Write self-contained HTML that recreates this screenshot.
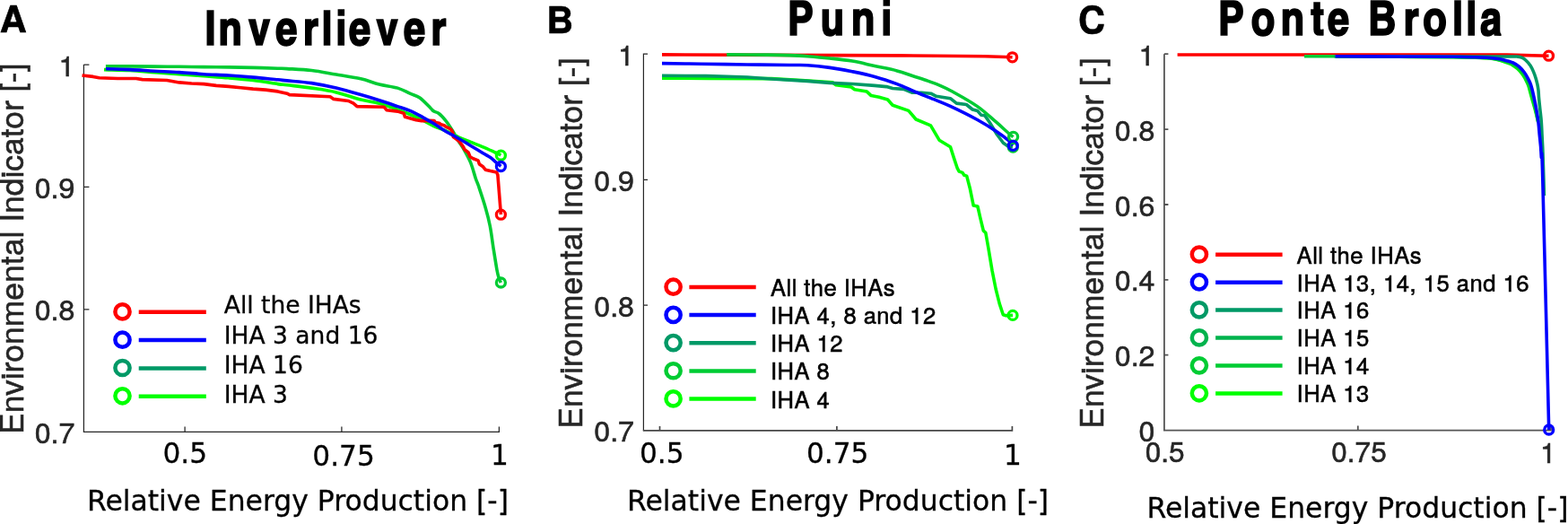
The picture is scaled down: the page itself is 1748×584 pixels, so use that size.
<!DOCTYPE html>
<html><head><meta charset="utf-8"><title>Environmental indicator vs relative energy production</title>
<style>html,body{margin:0;padding:0;background:#fff;}svg{display:block;}</style></head>
<body><svg width="1748" height="584" viewBox="0 0 1748 584">
<rect width="1748" height="584" fill="#fff"/>
<path d="M93.4,72.1 H99.4 M93.4,72.1 V481.4 H556.4 V475.4 M93.4,208.3 H99.4 M93.4,344.8 H99.4 M206.1,481.4 V475.4 M380.9,481.4 V475.4" fill="none" stroke="#262626" stroke-width="1.25"/>
<text x="83.4" y="84.69999999999999" font-size="32.2" font-family="'TeX Gyre Heros', 'Liberation Sans', Arial, Helvetica, sans-serif" text-anchor="end" fill="#262626" font-weight="normal" stroke="#262626" stroke-width="0.55">1</text>
<text x="83.4" y="220.9" font-size="32.2" font-family="'TeX Gyre Heros', 'Liberation Sans', Arial, Helvetica, sans-serif" text-anchor="end" fill="#262626" font-weight="normal" stroke="#262626" stroke-width="0.55">0.9</text>
<text x="83.4" y="357.40000000000003" font-size="32.2" font-family="'TeX Gyre Heros', 'Liberation Sans', Arial, Helvetica, sans-serif" text-anchor="end" fill="#262626" font-weight="normal" stroke="#262626" stroke-width="0.55">0.8</text>
<text x="83.4" y="494.0" font-size="32.2" font-family="'TeX Gyre Heros', 'Liberation Sans', Arial, Helvetica, sans-serif" text-anchor="end" fill="#262626" font-weight="normal" stroke="#262626" stroke-width="0.55">0.7</text>
<text x="206.3" y="516.3" font-size="31.2" font-family="'DejaVu Sans', Verdana, sans-serif" text-anchor="middle" fill="#000" font-weight="normal" stroke="#000" stroke-width="0.3">0.5</text>
<text x="383.1" y="519.0" font-size="31.2" font-family="'DejaVu Sans', Verdana, sans-serif" text-anchor="middle" fill="#000" font-weight="normal" stroke="#000" stroke-width="0.3">0.75</text>
<text x="557.0" y="518.2" font-size="31.2" font-family="'DejaVu Sans', Verdana, sans-serif" text-anchor="middle" fill="#000" font-weight="normal" stroke="#000" stroke-width="0.3">1</text>
<text x="97.0" y="569.0" font-size="31.45" font-family="'DejaVu Sans', Verdana, sans-serif" text-anchor="start" fill="#000" font-weight="normal" stroke="#000" stroke-width="0.3">Relative Energy Production [-]</text>
<text x="0" y="0" font-size="35.5" font-family="'TeX Gyre Heros', 'Liberation Sans', Arial, Helvetica, sans-serif" text-anchor="start" fill="#262626" font-weight="normal" stroke="#262626" stroke-width="0.55" transform="translate(26.3,483.9) rotate(-90)">Environmental Indicator [-]</text>
<text x="228.4 243.6 277.1 307.2 337.9 358.4 374.3 389.0 419.5 450.0 480.6" y="50.3" font-size="52.9" font-family="'TeX Gyre Heros Cn', 'Liberation Sans Narrow', 'Arial Narrow', 'Helvetica Condensed', 'Liberation Sans', sans-serif" font-weight="bold" fill="#000" stroke="#000" stroke-width="1.5" xml:space="preserve">Inverliever</text>
<text x="-0.3" y="35.8" font-size="41.5" font-family="'TeX Gyre Heros', 'Liberation Sans', Arial, Helvetica, sans-serif" text-anchor="start" fill="#000" font-weight="bold" stroke="#000" stroke-width="0.55">A</text>
<path d="M117.9,73.9 C122.4,73.9 135.9,73.9 145.0,73.9 C154.1,73.9 163.2,74.0 172.4,74.1 C181.6,74.2 190.8,74.2 200.0,74.3 C209.2,74.4 218.1,74.5 227.3,74.6 C236.5,74.7 245.8,74.8 255.0,74.9 C264.1,75.0 273.1,75.2 282.2,75.4 C291.3,75.6 303.4,76.0 309.7,76.2 C316.0,76.4 313.7,76.2 320.0,76.6 C326.3,77.0 338.3,77.4 347.4,78.5 C356.5,79.6 365.7,81.5 374.8,83.0 C383.9,84.5 394.2,86.0 402.2,87.8 C410.2,89.6 415.8,92.3 422.7,94.0 C429.6,95.7 437.6,96.4 443.3,98.1 C449.0,99.8 452.9,102.4 457.0,104.2 C461.1,106.0 464.2,106.3 468.0,109.0 C471.8,111.7 477.4,118.0 480.0,120.5 C482.6,123.0 482.2,123.1 483.7,124.1 C485.2,125.1 486.9,124.7 489.2,126.5 C491.5,128.3 494.9,132.0 497.4,135.1 C499.9,138.2 501.9,141.7 504.2,145.3 C506.5,149.0 508.8,153.2 511.1,157.0 C513.4,160.8 515.6,163.8 517.9,167.9 C520.2,172.0 522.7,176.4 524.8,181.6 C526.9,186.8 528.9,194.8 530.3,199.0 C531.7,203.2 531.6,201.6 533.4,207.0 C535.2,212.4 539.1,223.9 541.2,231.4 C543.4,238.9 544.8,244.3 546.3,252.0 C547.8,259.7 548.9,269.5 550.2,277.7 C551.5,285.9 553.0,295.4 554.0,301.0 C555.0,306.6 555.8,308.7 556.5,311.0 C557.2,313.3 558.1,314.3 558.4,315.0" fill="none" stroke="#00cc33" stroke-width="3.6" stroke-linejoin="round"/>
<path d="M116.0,77.6 C120.8,77.8 135.5,78.0 144.9,78.5 C154.3,79.0 163.2,79.9 172.4,80.6 C181.6,81.3 190.7,82.0 199.8,82.7 C209.0,83.4 218.1,84.0 227.3,84.7 C236.5,85.4 245.7,86.0 254.8,86.8 C263.9,87.6 273.1,88.4 282.2,89.5 C291.3,90.6 303.4,92.7 309.7,93.6 C316.0,94.5 313.7,94.0 320.0,94.7 C326.3,95.5 338.3,96.7 347.4,98.1 C356.5,99.5 365.7,100.7 374.8,102.9 C383.9,105.1 394.2,109.0 402.2,111.1 C410.2,113.1 415.8,113.4 422.7,115.2 C429.6,117.0 437.6,120.0 443.3,122.1 C449.0,124.1 452.4,125.6 457.0,127.5 C461.6,129.4 466.2,131.5 470.7,133.7 C475.1,135.9 479.2,138.4 483.7,140.5 C488.1,142.6 492.8,143.9 497.4,146.0 C502.0,148.1 506.5,150.8 511.1,152.9 C515.7,155.0 520.2,156.6 524.8,158.4 C529.4,160.2 533.9,161.9 538.5,163.8 C543.1,165.7 548.9,168.5 552.2,170.0 C555.5,171.5 557.4,172.4 558.4,172.9" fill="none" stroke="#00ff00" stroke-width="3.6" stroke-linejoin="round"/>
<polyline points="91.5,84.0 103.7,85.4 110.6,86.8 131.2,87.5 151.8,87.5 158.7,88.6 186.1,89.5 199.8,91.9 213.6,93.0 227.3,93.6 241.0,95.4 254.8,96.4 268.5,97.8 282.2,99.1 296.0,100.1 309.7,101.9 320.0,104.2 322.7,105.6 368.0,107.7 372.0,110.4 388.5,112.5 394.0,115.2 398.0,118.6 428.2,119.3 431.0,122.7 443.3,124.1 450.1,126.2 451.5,130.3 463.8,133.7 470.0,134.6 476.8,134.4 484.1,134.6 485.5,136.6 489.6,137.3 491.6,138.7 495.1,139.7 497.1,141.4 500.5,142.8 503.3,144.9 504.7,147.5 505.3,152.5 508.8,155.1 512.2,157.9 514.2,160.6 516.3,163.4 517.9,166.6 522.1,170.0 524.1,174.8 527.5,176.8 533.0,178.9 534.4,183.0 538.5,185.8 541.2,189.2 546.7,190.5 553.6,191.9 554.9,195.0 558.4,239.2" fill="none" stroke="#ff0000" stroke-width="3.6" stroke-linejoin="round" stroke-linecap="butt"/>
<path d="M117.9,76.8 C122.4,76.9 135.8,77.2 144.9,77.6 C154.0,78.0 163.2,78.7 172.4,79.2 C181.6,79.7 190.7,80.0 199.8,80.6 C209.0,81.2 218.1,82.1 227.3,82.7 C236.5,83.3 245.7,83.4 254.8,84.0 C263.9,84.6 273.1,85.3 282.2,86.1 C291.3,86.9 303.4,88.2 309.7,88.8 C316.0,89.4 313.7,89.3 320.0,89.9 C326.3,90.5 338.3,91.2 347.4,92.6 C356.5,94.0 365.7,95.9 374.8,98.1 C383.9,100.3 394.2,103.3 402.2,105.6 C410.2,107.9 415.8,109.6 422.7,111.8 C429.6,114.0 437.6,116.7 443.3,118.6 C449.0,120.5 452.4,121.5 457.0,123.4 C461.6,125.4 466.2,127.9 470.7,130.3 C475.1,132.7 479.2,135.1 483.7,137.8 C488.1,140.5 492.8,144.0 497.4,146.7 C502.0,149.4 506.5,151.6 511.1,154.2 C515.7,156.8 520.2,159.8 524.8,162.5 C529.4,165.2 534.9,168.5 538.5,170.7 C542.1,172.9 544.4,173.9 546.7,175.5 C549.0,177.1 550.2,178.7 552.2,180.3 C554.2,181.9 557.4,184.5 558.4,185.3" fill="none" stroke="#0000ff" stroke-width="3.6" stroke-linejoin="round"/>
<circle cx="558.4" cy="239.2" r="5.0" fill="none" stroke="#ff0000" stroke-width="3.3"/>
<circle cx="558.4" cy="315" r="5.0" fill="none" stroke="#00cc33" stroke-width="3.3"/>
<circle cx="558.4" cy="173.2" r="5.0" fill="none" stroke="#00ff00" stroke-width="3.3"/>
<circle cx="558.4" cy="185.5" r="5.0" fill="none" stroke="#0000ff" stroke-width="3.3"/>
<circle cx="136.5" cy="347.4" r="8.1" fill="none" stroke="#ff0000" stroke-width="4.5"/>
<line x1="154.7" y1="347.8" x2="229.8" y2="347.8" stroke="#ff0000" stroke-width="4.5"/>
<text x="249.8" y="349.3" font-size="26.5" font-family="'DejaVu Sans', Verdana, sans-serif" text-anchor="start" fill="#000" font-weight="normal" stroke="#000" stroke-width="0.3">All the IHAs</text>
<circle cx="136.5" cy="378.7" r="8.1" fill="none" stroke="#0000ff" stroke-width="4.5"/>
<line x1="154.7" y1="379.1" x2="229.8" y2="379.1" stroke="#0000ff" stroke-width="4.5"/>
<text x="249.8" y="382.6" font-size="26.5" font-family="'DejaVu Sans', Verdana, sans-serif" text-anchor="start" fill="#000" font-weight="normal" stroke="#000" stroke-width="0.3">IHA 3 and 16</text>
<circle cx="136.5" cy="410.0" r="8.1" fill="none" stroke="#009966" stroke-width="4.5"/>
<line x1="154.7" y1="410.4" x2="229.8" y2="410.4" stroke="#009966" stroke-width="4.5"/>
<text x="249.8" y="415.9" font-size="26.5" font-family="'DejaVu Sans', Verdana, sans-serif" text-anchor="start" fill="#000" font-weight="normal" stroke="#000" stroke-width="0.3">IHA 16</text>
<circle cx="136.5" cy="441.29999999999995" r="8.1" fill="none" stroke="#00ff00" stroke-width="4.5"/>
<line x1="154.7" y1="441.7" x2="229.8" y2="441.7" stroke="#00ff00" stroke-width="4.5"/>
<text x="249.8" y="449.2" font-size="26.5" font-family="'DejaVu Sans', Verdana, sans-serif" text-anchor="start" fill="#000" font-weight="normal" stroke="#000" stroke-width="0.3">IHA 3</text>
<path d="M722,60.2 H717.4 V479.8 M717.4,200.3 H722 M717.4,340.1 H722" fill="none" stroke="#262626" stroke-width="1.2"/>
<path d="M716.8,479.8 H1128.4 V475 M735.5,479.8 V475 M932.9,479.8 V475" fill="none" stroke="#474747" stroke-width="1.7"/>
<text x="707.0" y="72.8" font-size="32.2" font-family="'TeX Gyre Heros', 'Liberation Sans', Arial, Helvetica, sans-serif" text-anchor="end" fill="#262626" font-weight="normal" stroke="#262626" stroke-width="0.55">1</text>
<text x="707.0" y="212.9" font-size="32.2" font-family="'TeX Gyre Heros', 'Liberation Sans', Arial, Helvetica, sans-serif" text-anchor="end" fill="#262626" font-weight="normal" stroke="#262626" stroke-width="0.55">0.9</text>
<text x="707.0" y="352.70000000000005" font-size="32.2" font-family="'TeX Gyre Heros', 'Liberation Sans', Arial, Helvetica, sans-serif" text-anchor="end" fill="#262626" font-weight="normal" stroke="#262626" stroke-width="0.55">0.8</text>
<text x="707.0" y="492.3" font-size="32.2" font-family="'TeX Gyre Heros', 'Liberation Sans', Arial, Helvetica, sans-serif" text-anchor="end" fill="#262626" font-weight="normal" stroke="#262626" stroke-width="0.55">0.7</text>
<text x="737.8" y="515.7" font-size="31.2" font-family="'DejaVu Sans', Verdana, sans-serif" text-anchor="middle" fill="#000" font-weight="normal" stroke="#000" stroke-width="0.3">0.5</text>
<text x="933.7" y="515.8" font-size="31.2" font-family="'DejaVu Sans', Verdana, sans-serif" text-anchor="middle" fill="#000" font-weight="normal" stroke="#000" stroke-width="0.3">0.75</text>
<text x="1128.8" y="518.3" font-size="31.2" font-family="'DejaVu Sans', Verdana, sans-serif" text-anchor="middle" fill="#000" font-weight="normal" stroke="#000" stroke-width="0.3">1</text>
<text x="699.1" y="569.0" font-size="31.45" font-family="'DejaVu Sans', Verdana, sans-serif" text-anchor="start" fill="#000" font-weight="normal" stroke="#000" stroke-width="0.3">Relative Energy Production [-]</text>
<text x="0" y="0" font-size="35.5" font-family="'TeX Gyre Heros', 'Liberation Sans', Arial, Helvetica, sans-serif" text-anchor="start" fill="#262626" font-weight="normal" stroke="#262626" stroke-width="0.55" transform="translate(649.4,477.7) rotate(-90)">Environmental Indicator [-]</text>
<text x="878.1 914.6 948.9 982.2" y="39.0" font-size="52.9" font-family="'TeX Gyre Heros Cn', 'Liberation Sans Narrow', 'Arial Narrow', 'Helvetica Condensed', 'Liberation Sans', sans-serif" font-weight="bold" fill="#000" stroke="#000" stroke-width="1.5" xml:space="preserve">Puni</text>
<text x="609.3" y="36.5" font-size="41.5" font-family="'TeX Gyre Heros', 'Liberation Sans', Arial, Helvetica, sans-serif" text-anchor="start" fill="#000" font-weight="bold" stroke="#000" stroke-width="0.55">B</text>
<polyline points="738.0,87.2 790.0,87.4 860.0,87.6 894.0,89.5 928.0,91.8 932.0,94.8 949.0,97.0 952.7,99.7 966.4,102.1 971.2,106.6 980.0,108.3 989.6,111.0 995.1,117.2 1012.9,123.4 1021.1,133.0 1037.5,139.8 1047.1,156.2 1059.5,163.8 1063.5,176.4 1067.3,187.7 1069.2,191.1 1073.0,192.4 1074.8,195.2 1077.7,196.1 1081.4,210.3 1085.2,229.1 1089.9,230.0 1092.7,242.3 1096.3,257.2 1098.8,259.3 1101.9,276.7 1106.0,301.4 1110.1,322.0 1114.2,338.4 1118.3,350.8 1121.4,351.8 1129.0,351.4" fill="none" stroke="#00ff00" stroke-width="3.6" stroke-linejoin="round" stroke-linecap="butt"/>
<polyline points="738.0,84.3 787.2,84.6 833.0,86.0 860.0,88.0 900.0,90.4 925.0,92.4 950.0,93.5 975.0,95.4 988.2,96.6 995.1,98.5 1007.4,99.4 1017.1,103.2 1027.4,103.2 1037.7,104.2 1043.8,107.3 1059.5,109.7 1066.3,115.1 1077.3,116.5 1084.1,122.0 1089.6,123.4 1093.7,128.2 1097.8,128.6 1103.3,136.5 1111.5,150.0 1118.4,159.3 1123.8,163.1 1129.0,163.8" fill="none" stroke="#009966" stroke-width="3.6" stroke-linejoin="round" stroke-linecap="butt"/>
<path d="M738.0,70.6 C745.2,70.7 765.7,71.0 781.5,71.2 C797.3,71.4 816.6,71.8 833.0,72.0 C849.4,72.2 868.8,72.4 880.0,72.5 C891.2,72.6 892.5,72.2 900.0,72.7 C907.5,73.2 916.7,74.2 925.0,75.4 C933.3,76.6 941.7,78.0 950.0,79.7 C958.3,81.4 966.7,83.1 975.0,85.4 C983.3,87.7 992.4,90.8 1000.0,93.6 C1007.6,96.4 1013.6,99.7 1020.5,102.5 C1027.3,105.3 1034.5,108.0 1041.1,110.7 C1047.7,113.4 1051.9,114.8 1060.0,118.6 C1068.1,122.4 1081.2,128.9 1089.6,133.5 C1097.9,138.1 1104.4,142.2 1110.1,146.0 C1115.8,149.8 1120.6,153.5 1123.8,156.2 C1127.0,158.9 1128.2,161.1 1129.1,162.1" fill="none" stroke="#0000ff" stroke-width="3.6" stroke-linejoin="round"/>
<polyline points="738.0,60.9 930.0,61.6 1000.0,61.9 1098.0,62.7 1128.6,63.8" fill="none" stroke="#ff0000" stroke-width="3.6" stroke-linejoin="round" stroke-linecap="butt"/>
<path d="M810.1,60.9 C817.7,60.9 844.2,61.0 855.9,61.1 C867.5,61.2 872.6,61.3 880.0,61.6 C887.4,61.9 892.5,62.1 900.0,62.7 C907.5,63.3 916.7,64.1 925.0,65.0 C933.3,65.9 941.7,66.7 950.0,68.1 C958.3,69.5 966.7,71.7 975.0,73.5 C983.3,75.3 993.0,77.1 1000.0,78.9 C1007.0,80.7 1011.4,82.6 1017.1,84.5 C1022.8,86.4 1029.1,88.3 1034.2,90.1 C1039.3,91.9 1043.2,93.3 1047.9,95.3 C1052.6,97.3 1055.2,98.4 1062.2,102.3 C1069.2,106.2 1081.6,113.0 1089.6,118.6 C1097.6,124.2 1104.4,130.8 1110.1,135.7 C1115.8,140.6 1120.6,145.2 1123.8,148.0 C1127.0,150.8 1128.5,151.9 1129.5,152.7" fill="none" stroke="#00cc33" stroke-width="3.6" stroke-linejoin="round"/>
<circle cx="1129" cy="351.4" r="5.0" fill="none" stroke="#00ff00" stroke-width="3.3"/>
<circle cx="1129.3" cy="164.0" r="5.0" fill="none" stroke="#00cc33" stroke-width="3.3"/>
<circle cx="1129.6" cy="152.4" r="5.0" fill="none" stroke="#00cc33" stroke-width="3.3"/>
<circle cx="1129.3" cy="162.3" r="5.0" fill="none" stroke="#0000ff" stroke-width="3.3"/>
<circle cx="1128.6" cy="63.8" r="5.0" fill="none" stroke="#ff0000" stroke-width="3.3"/>
<circle cx="750.6" cy="319.7" r="8.1" fill="none" stroke="#ff0000" stroke-width="4.5"/>
<line x1="768.4" y1="319.9" x2="842.7" y2="319.9" stroke="#ff0000" stroke-width="4.5"/>
<text x="859.0" y="329.8" font-size="25.6" font-family="'TeX Gyre Heros', 'Liberation Sans', Arial, Helvetica, sans-serif" text-anchor="start" fill="#000" font-weight="normal" stroke="#000" stroke-width="0.55" letter-spacing="0.45">All the IHAs</text>
<circle cx="750.6" cy="350.88" r="8.1" fill="none" stroke="#0000ff" stroke-width="4.5"/>
<line x1="768.4" y1="351.1" x2="842.7" y2="351.1" stroke="#0000ff" stroke-width="4.5"/>
<text x="859.0" y="361.0" font-size="25.6" font-family="'TeX Gyre Heros', 'Liberation Sans', Arial, Helvetica, sans-serif" text-anchor="start" fill="#000" font-weight="normal" stroke="#000" stroke-width="0.55" letter-spacing="0.45">IHA 4, 8 and 12</text>
<circle cx="750.6" cy="382.06" r="8.1" fill="none" stroke="#009966" stroke-width="4.5"/>
<line x1="768.4" y1="382.3" x2="842.7" y2="382.3" stroke="#009966" stroke-width="4.5"/>
<text x="859.0" y="392.2" font-size="25.6" font-family="'TeX Gyre Heros', 'Liberation Sans', Arial, Helvetica, sans-serif" text-anchor="start" fill="#000" font-weight="normal" stroke="#000" stroke-width="0.55" letter-spacing="0.45">IHA 12</text>
<circle cx="750.6" cy="413.24" r="8.1" fill="none" stroke="#00cc33" stroke-width="4.5"/>
<line x1="768.4" y1="413.4" x2="842.7" y2="413.4" stroke="#00cc33" stroke-width="4.5"/>
<text x="859.0" y="423.3" font-size="25.6" font-family="'TeX Gyre Heros', 'Liberation Sans', Arial, Helvetica, sans-serif" text-anchor="start" fill="#000" font-weight="normal" stroke="#000" stroke-width="0.55" letter-spacing="0.45">IHA 8</text>
<circle cx="750.6" cy="444.41999999999996" r="8.1" fill="none" stroke="#00ff00" stroke-width="4.5"/>
<line x1="768.4" y1="444.6" x2="842.7" y2="444.6" stroke="#00ff00" stroke-width="4.5"/>
<text x="859.0" y="454.5" font-size="25.6" font-family="'TeX Gyre Heros', 'Liberation Sans', Arial, Helvetica, sans-serif" text-anchor="start" fill="#000" font-weight="normal" stroke="#000" stroke-width="0.55" letter-spacing="0.45">IHA 4</text>
<path d="M1297.9,60.2 V479.6 H1729 V474.6 M1513.8,479.6 V474.6 M1297.9,60.2 H1302.4 M1297.9,144.1 H1302.4 M1297.9,228.0 H1302.4 M1297.9,311.8 H1302.4 M1297.9,395.7 H1302.4" fill="none" stroke="#555555" stroke-width="1.8"/>
<text x="1287.5" y="72.8" font-size="32.2" font-family="'TeX Gyre Heros', 'Liberation Sans', Arial, Helvetica, sans-serif" text-anchor="end" fill="#262626" font-weight="normal" stroke="#262626" stroke-width="0.55">1</text>
<text x="1287.5" y="156.67999999999998" font-size="32.2" font-family="'TeX Gyre Heros', 'Liberation Sans', Arial, Helvetica, sans-serif" text-anchor="end" fill="#262626" font-weight="normal" stroke="#262626" stroke-width="0.55">0.8</text>
<text x="1287.5" y="240.55999999999997" font-size="32.2" font-family="'TeX Gyre Heros', 'Liberation Sans', Arial, Helvetica, sans-serif" text-anchor="end" fill="#262626" font-weight="normal" stroke="#262626" stroke-width="0.55">0.6</text>
<text x="1287.5" y="324.44" font-size="32.2" font-family="'TeX Gyre Heros', 'Liberation Sans', Arial, Helvetica, sans-serif" text-anchor="end" fill="#262626" font-weight="normal" stroke="#262626" stroke-width="0.55">0.4</text>
<text x="1287.5" y="408.32" font-size="32.2" font-family="'TeX Gyre Heros', 'Liberation Sans', Arial, Helvetica, sans-serif" text-anchor="end" fill="#262626" font-weight="normal" stroke="#262626" stroke-width="0.55">0.2</text>
<text x="1287.5" y="492.2" font-size="32.2" font-family="'TeX Gyre Heros', 'Liberation Sans', Arial, Helvetica, sans-serif" text-anchor="end" fill="#262626" font-weight="normal" stroke="#262626" stroke-width="0.55">0</text>
<text x="1298.6" y="515.2" font-size="31.5" font-family="'TeX Gyre Heros', 'Liberation Sans', Arial, Helvetica, sans-serif" text-anchor="middle" fill="#262626" font-weight="normal" stroke="#262626" stroke-width="0.55">0.5</text>
<text x="1515.0" y="515.2" font-size="31.5" font-family="'TeX Gyre Heros', 'Liberation Sans', Arial, Helvetica, sans-serif" text-anchor="middle" fill="#262626" font-weight="normal" stroke="#262626" stroke-width="0.55">0.75</text>
<text x="1725.8" y="515.6" font-size="31.5" font-family="'TeX Gyre Heros', 'Liberation Sans', Arial, Helvetica, sans-serif" text-anchor="middle" fill="#262626" font-weight="normal" stroke="#262626" stroke-width="0.55">1</text>
<text x="1278.5" y="576.9" font-size="31.45" font-family="'DejaVu Sans', Verdana, sans-serif" text-anchor="start" fill="#000" font-weight="normal" stroke="#000" stroke-width="0.3">Relative Energy Production [-]</text>
<text x="0" y="0" font-size="35.5" font-family="'TeX Gyre Heros', 'Liberation Sans', Arial, Helvetica, sans-serif" text-anchor="start" fill="#262626" font-weight="normal" stroke="#262626" stroke-width="0.55" transform="translate(1230.3,477.7) rotate(-90)">Environmental Indicator [-]</text>
<text x="1358.0 1394.8 1427.8 1461.6 1480.0 1505.0 1525.2 1564.8 1586.2 1619.1 1634.2 1650.0" y="38.6" font-size="52.9" font-family="'TeX Gyre Heros Cn', 'Liberation Sans Narrow', 'Arial Narrow', 'Helvetica Condensed', 'Liberation Sans', sans-serif" font-weight="bold" fill="#000" stroke="#000" stroke-width="1.5" xml:space="preserve">Ponte Brolla</text>
<text x="1202.0" y="36.6" font-size="41.5" font-family="'TeX Gyre Heros', 'Liberation Sans', Arial, Helvetica, sans-serif" text-anchor="start" fill="#000" font-weight="bold" stroke="#000" stroke-width="0.55">C</text>
<polyline points="1312.6,61.0 1680.0,61.1 1726.5,62.2" fill="none" stroke="#ff0000" stroke-width="3.6" stroke-linejoin="round" stroke-linecap="butt"/>
<polyline points="1454.0,62.8 1488.7,62.8" fill="none" stroke="#00cc33" stroke-width="3.6" stroke-linejoin="round" stroke-linecap="butt"/>
<path d="M1488.7,63.1 C1500.6,63.1 1538.1,63.2 1560.0,63.3 C1581.9,63.4 1605.8,63.5 1620.0,63.6 C1634.2,63.7 1638.2,63.9 1645.0,64.1 C1651.7,64.3 1656.3,64.5 1660.5,65.0 C1664.6,65.4 1667.1,66.1 1669.8,66.7 C1672.5,67.3 1674.7,68.1 1676.6,68.7 C1678.5,69.3 1679.8,69.8 1681.3,70.4 C1682.8,71.0 1683.8,71.2 1685.6,72.2 C1687.3,73.3 1689.9,74.9 1691.8,76.6 C1693.7,78.3 1695.5,80.5 1696.9,82.3 C1698.3,84.1 1699.0,85.4 1700.1,87.4 C1701.1,89.4 1702.5,92.1 1703.3,94.0 C1704.1,95.9 1704.1,96.2 1704.8,98.7 C1705.5,101.3 1706.5,105.3 1707.6,109.2 C1708.7,113.2 1710.3,118.2 1711.4,122.6 C1712.6,127.1 1714.2,133.9 1714.7,136.1" fill="none" stroke="#00ff00" stroke-width="3.6" stroke-linejoin="round"/>
<path d="M1488.7,63.0 C1500.6,63.0 1538.1,63.1 1560.0,63.2 C1581.9,63.3 1605.8,63.4 1620.0,63.5 C1634.2,63.6 1638.2,63.8 1645.0,64.0 C1651.7,64.2 1656.3,64.4 1660.5,64.8 C1664.6,65.2 1667.2,65.8 1669.9,66.3 C1672.6,66.9 1674.8,67.6 1676.7,68.1 C1678.7,68.7 1680.0,69.2 1681.5,69.8 C1683.1,70.3 1684.2,70.5 1686.0,71.5 C1687.8,72.5 1690.5,74.2 1692.4,75.9 C1694.3,77.6 1696.2,79.9 1697.6,81.7 C1699.0,83.6 1699.8,85.0 1700.8,87.0 C1701.9,89.0 1703.4,91.7 1704.2,93.7 C1705.0,95.6 1705.0,95.9 1705.7,98.5 C1706.4,101.1 1707.3,105.1 1708.4,109.1 C1709.4,113.1 1710.8,118.1 1711.9,122.6 C1712.9,127.1 1714.3,133.9 1714.8,136.1" fill="none" stroke="#00cc33" stroke-width="3.6" stroke-linejoin="round"/>
<path d="M1487.6,62.8 C1506.3,62.8 1567.8,63.0 1600.0,63.0 C1632.2,63.0 1665.8,63.0 1681.1,63.0 C1696.4,63.0 1689.4,62.9 1692.0,63.1 C1694.6,63.3 1695.1,63.6 1696.5,64.2 C1697.9,64.8 1698.9,65.3 1700.5,66.8 C1702.1,68.3 1704.5,70.8 1706.0,73.0 C1707.5,75.2 1708.5,77.5 1709.5,79.9 C1710.5,82.3 1711.5,85.0 1712.2,87.4 C1712.9,89.8 1713.4,91.9 1713.9,94.2 C1714.4,96.5 1714.7,98.6 1715.0,101.0 C1715.3,103.4 1715.2,105.1 1715.5,108.7 C1715.8,112.3 1716.4,117.8 1716.9,122.4 C1717.4,127.0 1718.0,131.5 1718.3,136.1 C1718.6,140.7 1718.8,145.2 1719.0,149.8 C1719.2,154.4 1719.5,159.3 1719.7,163.5 C1719.9,167.7 1719.9,168.8 1720.1,175.0 C1720.3,181.2 1720.7,193.3 1720.9,200.5 C1721.1,207.7 1721.3,215.1 1721.4,218.0" fill="none" stroke="#009966" stroke-width="3.6" stroke-linejoin="round"/>
<path d="M1488.7,62.8 C1500.6,62.8 1538.1,62.9 1560.0,63.0 C1581.9,63.1 1605.8,63.2 1620.0,63.3 C1634.2,63.4 1638.2,63.6 1645.0,63.8 C1651.8,64.0 1656.3,64.2 1660.5,64.5 C1664.7,64.8 1667.2,65.1 1670.0,65.5 C1672.8,65.9 1675.0,66.4 1677.0,66.9 C1679.0,67.4 1680.4,67.8 1682.0,68.3 C1683.6,68.8 1684.8,68.9 1686.8,69.9 C1688.8,70.9 1691.6,72.6 1693.7,74.4 C1695.8,76.2 1697.7,78.6 1699.2,80.5 C1700.7,82.4 1701.5,83.9 1702.6,86.0 C1703.7,88.1 1705.2,90.9 1706.0,92.9 C1706.8,94.9 1706.9,95.4 1707.6,98.0 C1708.3,100.6 1709.2,104.6 1710.1,108.7 C1711.0,112.8 1712.0,117.8 1712.8,122.4 C1713.6,127.0 1714.3,131.5 1714.9,136.1 C1715.5,140.7 1715.8,145.2 1716.2,149.8 C1716.7,154.4 1717.2,159.3 1717.6,163.5 C1717.9,167.7 1717.9,168.9 1718.3,175.0 C1718.7,181.1 1718.4,149.5 1719.8,200.2 C1721.2,250.9 1725.5,432.5 1726.7,479.0" fill="none" stroke="#0000ff" stroke-width="3.6" stroke-linejoin="round"/>
<circle cx="1726.5" cy="62.2" r="5.0" fill="none" stroke="#ff0000" stroke-width="3.3"/>
<circle cx="1726.7" cy="479" r="5.0" fill="none" stroke="#0000ff" stroke-width="3.3"/>
<circle cx="1336.9" cy="283.5" r="8.1" fill="none" stroke="#ff0000" stroke-width="4.5"/>
<line x1="1355.1" y1="283.7" x2="1429.6" y2="283.7" stroke="#ff0000" stroke-width="4.5"/>
<text x="1445.6" y="293.5" font-size="25.7" font-family="'TeX Gyre Heros', 'Liberation Sans', Arial, Helvetica, sans-serif" text-anchor="start" fill="#000" font-weight="normal" stroke="#000" stroke-width="0.55" letter-spacing="0.45">All the IHAs</text>
<circle cx="1336.9" cy="314.46" r="8.1" fill="none" stroke="#0000ff" stroke-width="4.5"/>
<line x1="1355.1" y1="314.7" x2="1429.6" y2="314.7" stroke="#0000ff" stroke-width="4.5"/>
<text x="1445.6" y="324.5" font-size="25.7" font-family="'TeX Gyre Heros', 'Liberation Sans', Arial, Helvetica, sans-serif" text-anchor="start" fill="#000" font-weight="normal" stroke="#000" stroke-width="0.55" letter-spacing="0.45">IHA 13, 14, 15 and 16</text>
<circle cx="1336.9" cy="345.42" r="8.1" fill="none" stroke="#009966" stroke-width="4.5"/>
<line x1="1355.1" y1="345.6" x2="1429.6" y2="345.6" stroke="#009966" stroke-width="4.5"/>
<text x="1445.6" y="355.4" font-size="25.7" font-family="'TeX Gyre Heros', 'Liberation Sans', Arial, Helvetica, sans-serif" text-anchor="start" fill="#000" font-weight="normal" stroke="#000" stroke-width="0.55" letter-spacing="0.45">IHA 16</text>
<circle cx="1336.9" cy="376.38" r="8.1" fill="none" stroke="#00b34d" stroke-width="4.5"/>
<line x1="1355.1" y1="376.6" x2="1429.6" y2="376.6" stroke="#00b34d" stroke-width="4.5"/>
<text x="1445.6" y="386.4" font-size="25.7" font-family="'TeX Gyre Heros', 'Liberation Sans', Arial, Helvetica, sans-serif" text-anchor="start" fill="#000" font-weight="normal" stroke="#000" stroke-width="0.55" letter-spacing="0.45">IHA 15</text>
<circle cx="1336.9" cy="407.34000000000003" r="8.1" fill="none" stroke="#00cc33" stroke-width="4.5"/>
<line x1="1355.1" y1="407.5" x2="1429.6" y2="407.5" stroke="#00cc33" stroke-width="4.5"/>
<text x="1445.6" y="417.3" font-size="25.7" font-family="'TeX Gyre Heros', 'Liberation Sans', Arial, Helvetica, sans-serif" text-anchor="start" fill="#000" font-weight="normal" stroke="#000" stroke-width="0.55" letter-spacing="0.45">IHA 14</text>
<circle cx="1336.9" cy="438.3" r="8.1" fill="none" stroke="#00ff00" stroke-width="4.5"/>
<line x1="1355.1" y1="438.5" x2="1429.6" y2="438.5" stroke="#00ff00" stroke-width="4.5"/>
<text x="1445.6" y="448.3" font-size="25.7" font-family="'TeX Gyre Heros', 'Liberation Sans', Arial, Helvetica, sans-serif" text-anchor="start" fill="#000" font-weight="normal" stroke="#000" stroke-width="0.55" letter-spacing="0.45">IHA 13</text>
</svg></body></html>
